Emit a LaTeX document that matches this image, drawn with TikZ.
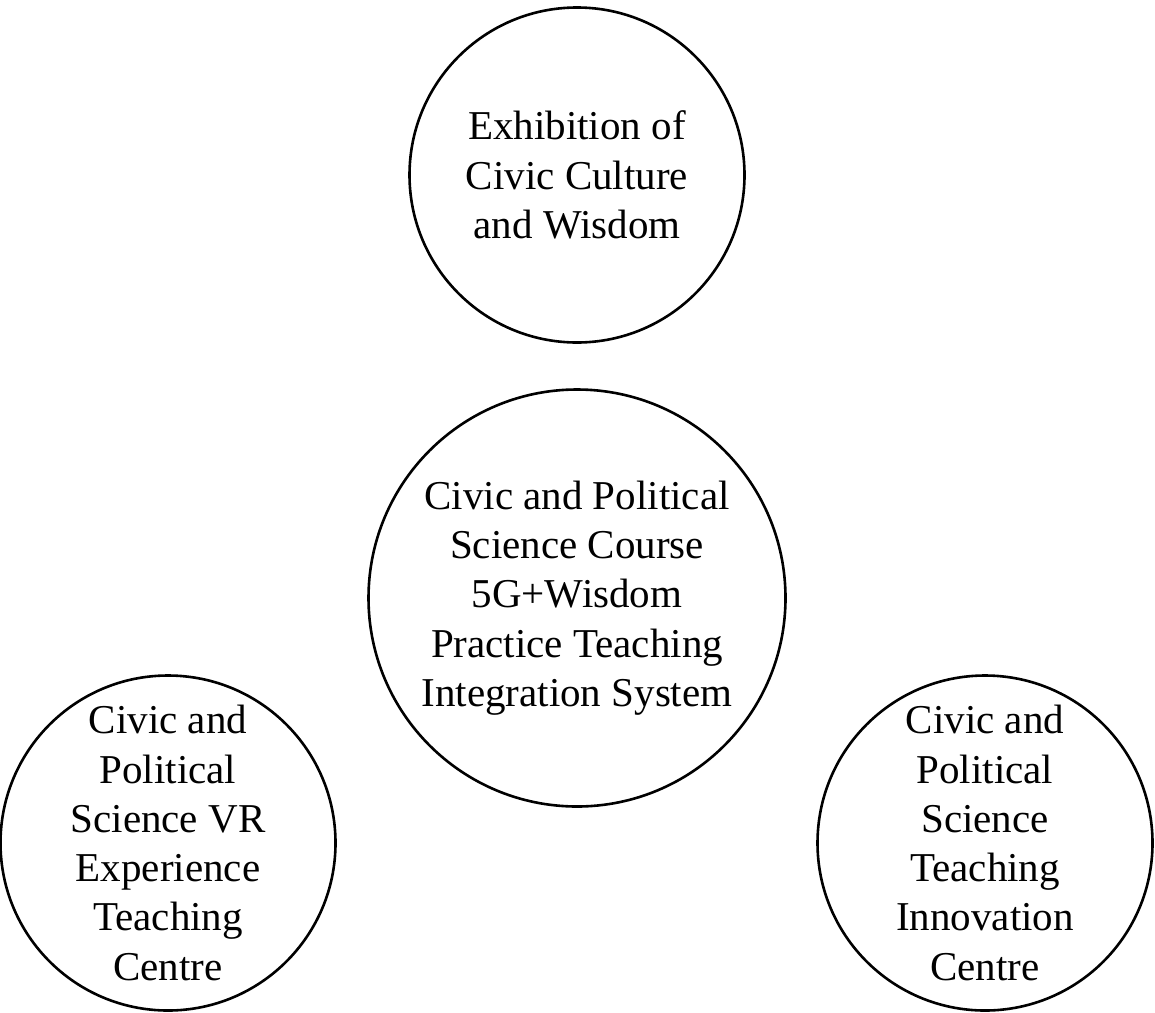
\documentclass[tikz,border=0pt]{standalone}
\usepackage{fontspec}
\setmainfont{Liberation Serif}
\begin{document}
\begin{tikzpicture}[x=1pt,y=-1pt,
  ring/.style={draw, circle, line width=2.6pt, inner sep=0pt},
  txt/.style={align=center, inner sep=0pt, font=\fontsize{41}{49.3}\selectfont}]
\useasboundingbox (0,0) rectangle (1155,1012);
\node[ring, minimum size=335pt] (top) at (577,175) {};
\node[txt] (toptext) at (top.center) {Exhibition of\\Civic Culture\\and Wisdom};
\node[ring, minimum size=417pt] (mid) at (577,598) {};
\node[txt] (midtext) at (mid.center) {Civic and Political\\Science Course\\5G+Wisdom\\Practice Teaching\\Integration System};
\node[ring, minimum size=335pt] (left) at (168,843) {};
\node[txt] (lefttext) at (left.center) {Civic and\\Political\\Science VR\\Experience\\Teaching\\Centre};
\node[ring, minimum size=335pt] (right) at (985,843) {};
\node[txt] (righttext) at (right.center) {Civic and\\Political\\Science\\Teaching\\Innovation\\Centre};
\end{tikzpicture}
\end{document}
